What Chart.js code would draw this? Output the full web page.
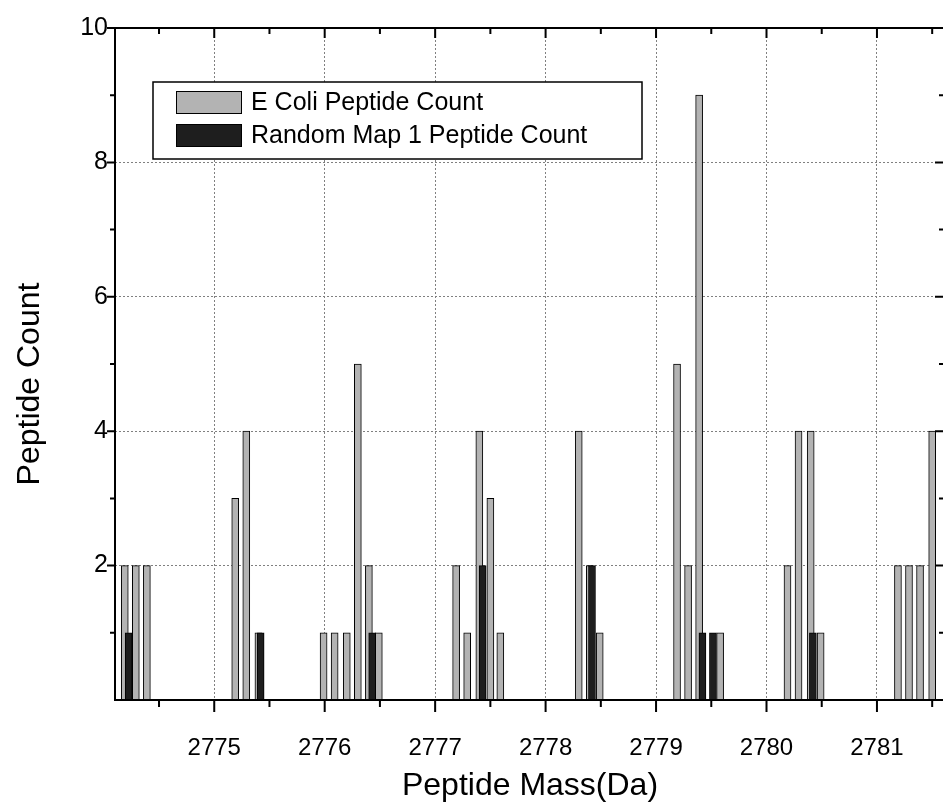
<!DOCTYPE html>
<html><head><meta charset="utf-8">
<script src="https://cdn.jsdelivr.net/npm/chart.js@4.4.0/dist/chart.umd.min.js"></script>
<style>
html,body{margin:0;padding:0;background:#fff;overflow:hidden;width:943px;height:802px}
#wrap{position:relative;width:950px;height:802px}
</style>
</head><body><div id="wrap"><canvas id="c" width="950" height="802"></canvas></div>
<script>
// ---- data ----
const ecoliMass = [2774.19, 2774.29, 2774.39,
  2775.19, 2775.29, 2775.40,
  2775.99, 2776.09, 2776.20, 2776.30, 2776.40, 2776.49,
  2777.19, 2777.29, 2777.40, 2777.50, 2777.59,
  2778.30, 2778.40, 2778.49,
  2779.19, 2779.29, 2779.39, 2779.58,
  2780.19, 2780.29, 2780.40, 2780.49,
  2781.19, 2781.29, 2781.39, 2781.50];
const ecoliCount = [2, 2, 2,
  3, 4, 1,
  1, 1, 1, 5, 2, 1,
  2, 1, 4, 3, 1,
  4, 2, 1,
  5, 2, 9, 1,
  2, 4, 4, 1,
  2, 2, 2, 4];
const randomMass = [2774.225, 2775.42, 2776.43, 2777.43, 2778.42, 2779.42, 2779.515, 2780.42];
const randomCount = [1, 1, 1, 2, 2, 1, 1, 1];

const xTicks = [2775, 2776, 2777, 2778, 2779, 2780, 2781];
const xMinorTicks = [2774.5, 2775.5, 2776.5, 2777.5, 2778.5, 2779.5, 2780.5, 2781.5];
const yTicks = [2, 4, 6, 8, 10];
const yMinorTicks = [1, 3, 5, 7, 9];
const seriesNames = ['E Coli Peptide Count', 'Random Map 1 Peptide Count'];
const xTitle = 'Peptide Mass(Da)';
const yTitle = 'Peptide Count';

const FONT = '"Liberation Sans", Arial, Helvetica, sans-serif';
const GRAY = '#b3b3b3';
const DARK = '#1e1e1e';

const toPoints = (xs, ys) => xs.map((m, i) => ({x: m, y: ys[i]}));

const framePlugin = {
  id: 'frame',
  afterDraw(chart) {
    const {ctx, chartArea: a, scales: {x, y}} = chart;
    ctx.save();
    ctx.strokeStyle = '#000';
    ctx.lineWidth = 2;
    ctx.setLineDash([]);
    ctx.strokeRect(a.left, a.top, a.right - a.left, a.bottom - a.top);
    ctx.beginPath();
    const seg = (x1, y1, x2, y2) => { ctx.moveTo(x1, y1); ctx.lineTo(x2, y2); };
    xTicks.forEach(v => { const p = x.getPixelForValue(v); seg(p, a.bottom, p, a.bottom + 12); seg(p, a.top, p, a.top + 10); });
    xMinorTicks.forEach(v => { const p = x.getPixelForValue(v); seg(p, a.bottom, p, a.bottom + 7); seg(p, a.top, p, a.top + 6); });
    yTicks.forEach(v => { const p = y.getPixelForValue(v); seg(a.left - 8, p, a.left, p); seg(a.right - 10, p, a.right, p); });
    yMinorTicks.forEach(v => { const p = y.getPixelForValue(v); seg(a.left - 5, p, a.left, p); seg(a.right - 6, p, a.right, p); });
    ctx.stroke();

    // y axis title (placed slightly below the plot centre, as in the reference)
    ctx.save();
    ctx.translate(30, 384);
    ctx.rotate(-Math.PI / 2);
    ctx.font = '32px ' + FONT;
    ctx.fillStyle = '#000';
    ctx.textAlign = 'center';
    ctx.textBaseline = 'middle';
    ctx.fillText(yTitle, 0, 0);
    ctx.restore();

    // legend box
    const bx = 153, by = 82, bw = 489, bh = 77;
    ctx.fillStyle = '#fff';
    ctx.fillRect(bx, by, bw, bh);
    ctx.lineWidth = 1.5;
    ctx.strokeRect(bx, by, bw, bh);
    const ds = chart.data.datasets;
    const rows = [91, 124];
    ctx.font = '25px ' + FONT;
    ctx.textBaseline = 'middle';
    ctx.textAlign = 'left';
    ds.forEach((d, i) => {
      ctx.fillStyle = d.backgroundColor;
      ctx.fillRect(176, rows[i], 66, 23);
      ctx.lineWidth = 1;
      ctx.strokeStyle = '#000';
      ctx.strokeRect(176.5, rows[i] + 0.5, 65, 22);
      ctx.fillStyle = '#000';
      ctx.fillText(d.label, 251, rows[i] + 12);
    });
    ctx.restore();
  }
};

new Chart(document.getElementById('c'), {
  type: 'bar',
  data: {
    datasets: [
      {label: seriesNames[0], data: toPoints(ecoliMass, ecoliCount), backgroundColor: GRAY, borderColor: '#000',
       borderWidth: 1, borderSkipped: false, barThickness: 7, grouped: false, order: 2},
      {label: seriesNames[1], data: toPoints(randomMass, randomCount), backgroundColor: DARK, borderColor: '#000',
       borderWidth: 1, borderSkipped: false, barThickness: 7, grouped: false, order: 1}
    ]
  },
  options: {
    responsive: false,
    animation: false,
    layout: {padding: {top: 28, right: 5, left: 0, bottom: 0}},
    plugins: {legend: {display: false}, tooltip: {enabled: false}},
    scales: {
      x: {
        type: 'linear', min: 2774.1015, max: 2781.616, offset: false,
        afterBuildTicks: s => { s.ticks = xTicks.map(v => ({value: v})); },
        afterFit: s => { s.height = 102; },
        grid: {offset: false, drawTicks: false, color: '#808080', lineWidth: 1},
        border: {display: false, dash: [2, 2]},
        ticks: {color: '#000', font: {family: FONT, size: 24}, padding: 34, maxRotation: 0,
                callback: v => String(v)},
        title: {display: true, text: xTitle, color: '#000', font: {family: FONT, size: 32, lineHeight: 1}, padding: {top: 0, bottom: 0}}
      },
      y: {
        type: 'linear', min: 0, max: 10,
        afterBuildTicks: s => { s.ticks = yTicks.map(v => ({value: v})); },
        afterFit: s => { s.width = 115; },
        grid: {drawTicks: false, color: '#808080', lineWidth: 1},
        border: {display: false, dash: [2, 2]},
        ticks: {color: '#000', font: {family: FONT, size: 25}, padding: 7},
        title: {display: false}
      }
    }
  },
  plugins: [framePlugin]
});
</script>
</body></html>
